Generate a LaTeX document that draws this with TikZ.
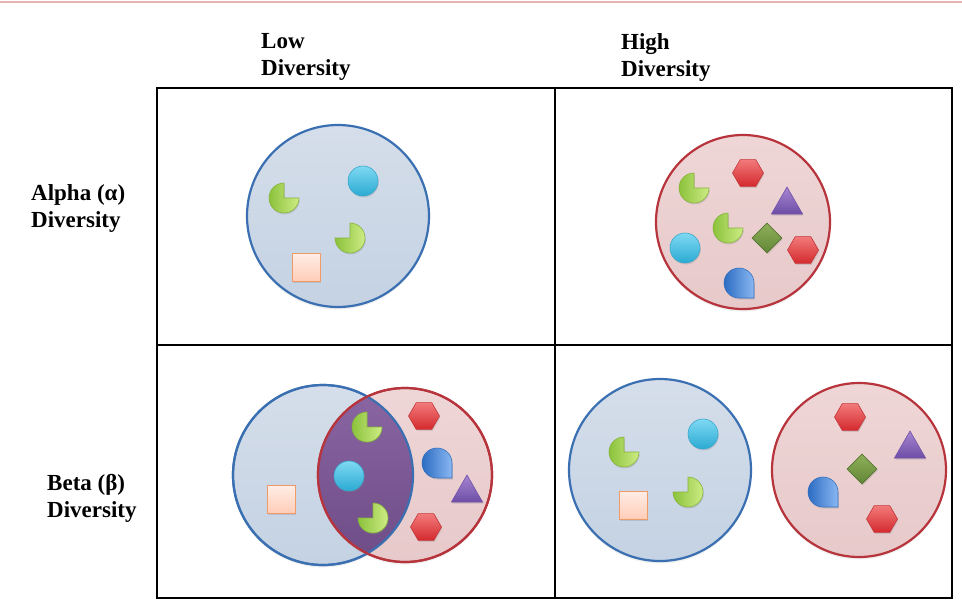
\documentclass[tikz,border=0pt]{standalone}
\usepackage{fontspec}
\setmainfont{Liberation Serif}
\usetikzlibrary{shapes.geometric,shadows}
\definecolor{pinkline}{HTML}{E6B3B3}
\definecolor{blueB}{HTML}{3A6FB2}
\definecolor{blueT}{HTML}{D5DEEA}
\definecolor{blueD}{HTML}{C4D2E3}
\definecolor{redB}{HTML}{B7343C}
\definecolor{redT}{HTML}{EFD6D6}
\definecolor{redD}{HTML}{E7C9CA}
\definecolor{purT}{HTML}{8A66A2}
\definecolor{purD}{HTML}{6E4C86}
\definecolor{cyanT}{HTML}{7FD9F2}
\definecolor{cyanD}{HTML}{2BAAD3}
\definecolor{cyanB}{HTML}{3AA6CC}
\definecolor{pacL}{HTML}{8CC23C}
\definecolor{pacR}{HTML}{CDEC84}
\definecolor{pacB}{HTML}{86B43C}
\definecolor{sqT}{HTML}{FFEDE6}
\definecolor{sqD}{HTML}{FFCDB8}
\definecolor{sqB}{HTML}{F09A68}
\definecolor{hexT}{HTML}{F27A7A}
\definecolor{hexD}{HTML}{D42A2E}
\definecolor{hexB}{HTML}{C4363A}
\definecolor{triT}{HTML}{A586D0}
\definecolor{triD}{HTML}{6E4EA6}
\definecolor{triB}{HTML}{7252AA}
\definecolor{diaT}{HTML}{8FB05A}
\definecolor{diaD}{HTML}{628638}
\definecolor{diaB}{HTML}{55742F}
\definecolor{tearL}{HTML}{2C6CC2}
\definecolor{tearR}{HTML}{8AB8F2}
\definecolor{tearB}{HTML}{3570BE}
\begin{document}
\begin{tikzpicture}[x=1pt,y=-1pt,
  lbl/.style={font=\bfseries\fontsize{23}{27}\selectfont, align=left, inner sep=0pt, anchor=north west},
  grid/.style={draw=black, line width=1.2pt},
  shd/.style={drop shadow={opacity=0.25, shadow xshift=0.8pt, shadow yshift=-1.5pt}},
  bigshd/.style={drop shadow={opacity=0.12, shadow xshift=0pt, shadow yshift=-2.5pt}},
  bigblue/.style={circle, inner sep=0pt, draw=blueB, line width=2.2pt, top color=blueT, bottom color=blueD, bigshd},
  bigred/.style={circle, inner sep=0pt, draw=redB, line width=2.2pt, top color=redT, bottom color=redD, bigshd},
  ball/.style={circle, minimum size=30pt, inner sep=0pt, draw=cyanB, line width=0.6pt, top color=cyanT, bottom color=cyanD, shd},
  sqr/.style={rectangle, minimum size=28pt, inner sep=0pt, draw=sqB, line width=1pt, top color=sqT, bottom color=sqD, shd},
  hexa/.style={regular polygon, regular polygon sides=6, minimum size=31pt, inner sep=0pt, draw=hexB, line width=0.6pt, top color=hexT, bottom color=hexD, shd},
  trig/.style={regular polygon, regular polygon sides=3, minimum size=36pt, inner sep=0pt, draw=triB, line width=0.6pt, top color=triT, bottom color=triD, shd},
  diam/.style={diamond, minimum width=30pt, minimum height=30pt, inner sep=0pt, draw=diaB, line width=0.6pt, top color=diaT, bottom color=diaD, shd},
  pacsty/.style={draw=pacB, line width=0.6pt, left color=pacL, right color=pacR, shd},
  tearsty/.style={draw=tearB, line width=0.6pt, left color=tearL, right color=tearR, shd},
  pacUR/.pic={\path[pacsty] (0,0) -- (15,0) arc[start angle=0, end angle=270, radius=15] -- cycle;},
  pacUL/.pic={\path[pacsty] (0,0) -- (0,-15) arc[start angle=-90, end angle=180, radius=15] -- cycle;},
  tear/.pic={\path[tearsty] (15,0) -- (15,15) -- (0,15) arc[start angle=90, end angle=360, radius=15] -- cycle;}
]
\useasboundingbox (0,0) rectangle (962,606);
\fill[white] (0,0) rectangle (962,606);
\draw[pinkline, line width=2pt] (0,2) -- (962,2);

% headers
\node[lbl] (hlow) at (261,33) {Low\\Diversity};
\node[lbl] (hhigh) at (621,33) {High\\Diversity};
\node[lbl] (ralpha) at (31,184) {Alpha (α)\\Diversity};
\node[lbl] (rbeta) at (47,474) {Beta (β)\\Diversity};

% table
\draw[grid] (157,88) rectangle (952,598);
\draw[grid] (555,88) -- (555,598);
\draw[grid] (157,345) -- (952,345);

% alpha low
\node[bigblue, minimum size=182pt] (alow) at (338,216) {};
\pic (alp1) at (284,198) {pacUR};
\node[ball] (alc) at (363,181) {};
\pic (alp2) at (350,238) {pacUL};
\node[sqr] (als) at (306,267) {};

% alpha high
\node[bigred, minimum size=174pt] (ahigh) at (743,222) {};
\node[hexa] (ahh1) at (748,173) {};
\pic (ahp1) at (694,188) {pacUR};
\node[trig] (aht) at (787,205) {};
\pic (ahp2) at (728,228) {pacUR};
\node[diam] (ahd) at (767,238) {};
\node[ball] (ahc) at (685,248) {};
\node[hexa] (ahh2) at (803,250) {};
\pic (aht2) at (739,283) {tear};

% beta low (overlap)
\node[bigblue, minimum size=180pt] (blb) at (323,475) {};
\node[bigred, minimum size=174pt] (blr) at (405,475) {};
\begin{scope}
  \clip (323,475) circle[radius=90];
  \fill[top color=purT, bottom color=purD] (405,475) circle[radius=87];
\end{scope}
\draw[blueB, line width=2.2pt] (323,475) circle[radius=90];
\draw[redB, line width=2.2pt] (405,475) circle[radius=87];
\pic (blp1) at (367,427) {pacUR};
\node[ball] (blc) at (349,476) {};
\pic (blp2) at (373,518) {pacUL};
\node[sqr] (bls) at (281,499) {};
\node[hexa] (blh1) at (424,416) {};
\pic (blt) at (437,463) {tear};
\node[trig] (bltr) at (467,493) {};
\node[hexa] (blh2) at (426,527) {};

% beta high
\node[bigblue, minimum size=182pt] (bhb) at (660,470) {};
\node[bigred, minimum size=174pt] (bhr) at (859,470) {};
\pic (bhp1) at (624,452) {pacUR};
\node[ball] (bhc) at (703,434) {};
\node[sqr] (bhs) at (633,505) {};
\pic (bhp2) at (688,492) {pacUL};
\node[hexa] (bhh1) at (850,417) {};
\node[trig] (bhtr) at (910,449) {};
\node[diam] (bhd) at (862,469) {};
\pic (bht) at (823,492) {tear};
\node[hexa] (bhh2) at (882,519) {};
\end{tikzpicture}
\end{document}
